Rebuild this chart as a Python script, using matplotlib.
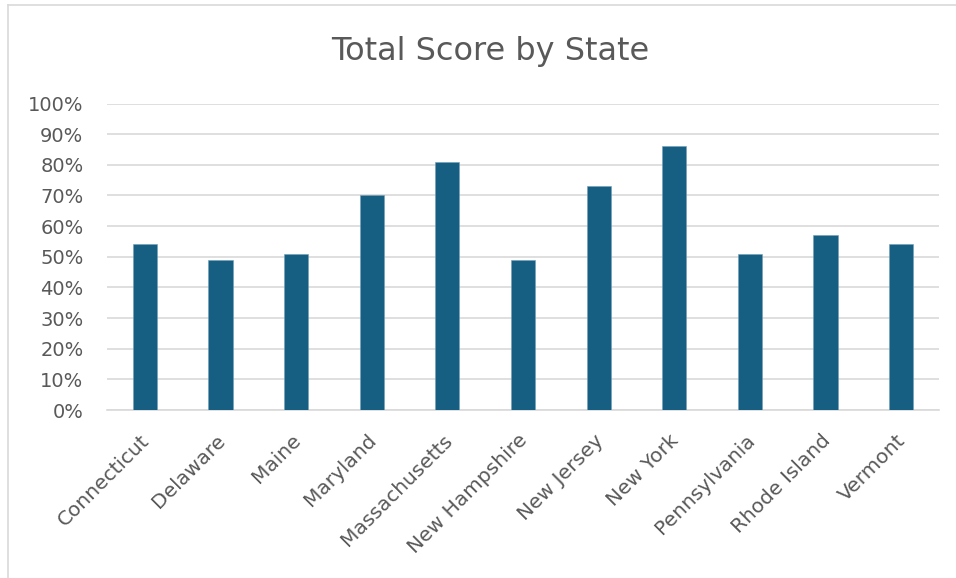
import matplotlib
matplotlib.use("Agg")
import matplotlib.pyplot as plt
from matplotlib.ticker import MultipleLocator, FuncFormatter
from matplotlib.lines import Line2D
from matplotlib.transforms import ScaledTranslation

states = ["Connecticut", "Delaware", "Maine", "Maryland", "Massachusetts",
          "New Hampshire", "New Jersey", "New York", "Pennsylvania",
          "Rhode Island", "Vermont"]
scores = [0.54, 0.49, 0.51, 0.70, 0.81, 0.49, 0.73, 0.86, 0.51, 0.57, 0.54]

W, H = 956, 578
fig = plt.figure(figsize=(W / 100, H / 100), dpi=100)
fig.patch.set_facecolor("white")

# chart frame (left and top edges visible)
fig.add_artist(Line2D([8 / W, 8 / W], [0, 1 - 5 / H], transform=fig.transFigure,
                      color="#d9d9d9", lw=1.2))
fig.add_artist(Line2D([8 / W, 1], [1 - 5 / H, 1 - 5 / H], transform=fig.transFigure,
                      color="#d9d9d9", lw=1.2))

left, right, top, bottom = 107, 939, 103.5, 410
ax = fig.add_axes([left / W, 1 - bottom / H, (right - left) / W, (bottom - top) / H])

x = range(len(states))
ax.bar(x, scores, width=0.32, color="#175f82", edgecolor="#6f9fb8", linewidth=0.4, zorder=3)

ax.set_xlim(-0.5, len(states) - 0.5)
ax.set_ylim(0, 1.0)
ax.yaxis.set_major_locator(MultipleLocator(0.1))
ax.yaxis.set_major_formatter(FuncFormatter(lambda v, p: f"{v * 100:.0f}%"))
ax.grid(axis="y", color="#d9d9d9", linewidth=1.2, zorder=0)
ax.set_axisbelow(True)
for s in ["top", "right", "left"]:
    ax.spines[s].set_visible(False)
ax.spines["bottom"].set_color("#d9d9d9")
ax.spines["bottom"].set_linewidth(1.2)
ax.tick_params(axis="both", length=0, colors="#595959")
ax.tick_params(axis="y", pad=17, labelsize=14)
ax.set_xticks(list(x))
ax.set_xticklabels(states, rotation=45, ha="right", rotation_mode="anchor",
                   fontsize=14.5, color="#595959")
ax.tick_params(axis="x", pad=15)
shift = ScaledTranslation(-5 / 100, 0, fig.dpi_scale_trans)
for lbl in ax.get_xticklabels():
    lbl.set_transform(lbl.get_transform() + shift)

fig.text(490 / W, 1 - 60 / H, "Total Score by State", ha="center", va="baseline",
         fontsize=23, color="#595959")

fig.savefig("out.png", dpi=100, facecolor="white")
